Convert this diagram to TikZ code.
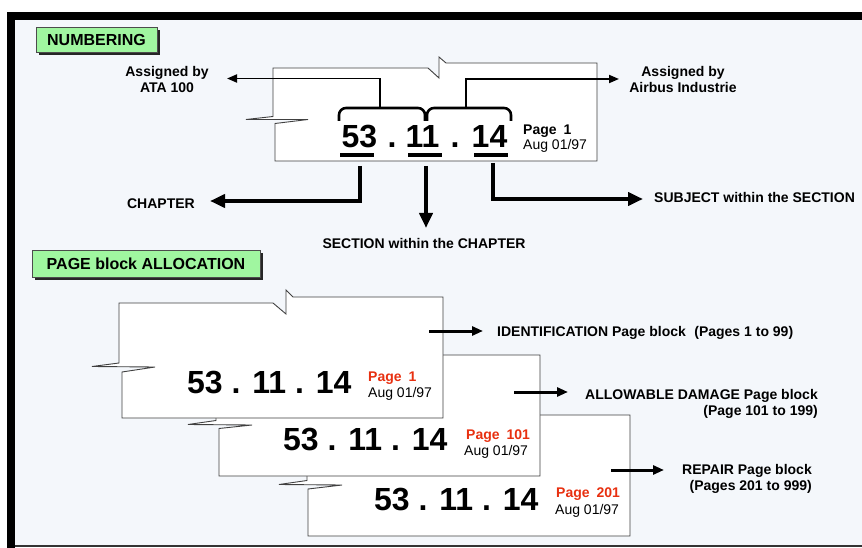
\documentclass[tikz,border=0pt]{standalone}
\usepackage{fontspec}
\setmainfont{Liberation Sans}
\usetikzlibrary{arrows.meta,shadows}
\definecolor{panel}{RGB}{244,247,251}
\definecolor{taggreen}{RGB}{160,246,160}
\definecolor{pagered}{RGB}{232,48,16}
\tikzset{
  sheet/.style={draw=black!75, line width=0.9pt, fill=white, line join=miter},
  tag/.style={draw=black!70, line width=0.6pt, fill=taggreen, inner sep=0pt,
    font=\fontsize{16}{18}\selectfont\bfseries,
    drop shadow={shadow xshift=3pt, shadow yshift=-3pt, fill=black!85, opacity=1}},
  lbl/.style={inner sep=0pt, font=\fontsize{14}{15.5}\selectfont\bfseries},
  bignum/.style={inner sep=0pt, font=\fontsize{32}{34}\selectfont\bfseries},
  pg/.style={inner sep=0pt, text depth=0pt, font=\fontsize{14}{15}\selectfont\bfseries},
  dt/.style={inner sep=0pt, text height=10pt, font=\fontsize{14}{15}\selectfont},
  thinarrow/.style={line width=1.9pt, -{Triangle[length=10pt,width=8pt]}},
  bigarrow/.style={line width=4pt, -{Triangle[length=15pt,width=13pt]}},
  midarrow/.style={line width=3pt, -{Triangle[length=11pt,width=9pt]}},
  brace/.style={line width=2.6pt, rounded corners=7pt},
  uline/.style={line width=4pt},
}
\begin{document}
\begin{tikzpicture}[x=1pt,y=-1pt]
\useasboundingbox (0,0) rectangle (862,548);
% frame and panel
\fill[white] (0,0) rectangle (862,548);
\fill[panel] (15,20) rectangle (862,546);
\fill[black] (7,12) rectangle (862,20);
\fill[black] (7,12) rectangle (15,548);
\draw[black!80, line width=1.5pt] (15,546) -- (862,546);

% section tags
\node[tag, minimum width=121pt, minimum height=25pt] (numbering) at (96.5,39.5) {NUMBERING};
\node[tag, minimum width=228pt, minimum height=27pt] (alloc) at (146,263.5) {PAGE block ALLOCATION};

% ---------- numbering sheet ----------
\draw[sheet] (273,68) -- (428,68) -- (439,78) -- (439,57) -- (446,63) -- (597,63)
  -- (597,161) -- (275,161) -- (275,123.5) -- (308,119.5) -- (246,119.5) -- (273,116.5) -- cycle;

\node[bignum, anchor=base] (n53) at (359.5,148) {53};
\node[bignum, anchor=base] (dotA) at (392,148) {.};
\node[bignum, anchor=base] (n11) at (422.5,148) {11};
\node[bignum, anchor=base] (dotB) at (455,148) {.};
\node[bignum, anchor=base] (n14) at (489.5,148) {14};
\node[pg, anchor=base west] (pg0) at (523,135) {Page\hspace{0.5em}1};
\node[dt, anchor=base west] (dt0) at (523,150) {Aug 01/97};

\draw[uline] (340,155) -- (374,155);
\draw[uline] (408,155) -- (442,155);
\draw[uline] (474,155) -- (508,155);

\draw[brace] (339,121) -- (339,108) -- (425,108) -- (425,121);
\draw[brace] (427,121) -- (427,108) -- (511,108) -- (511,121);

% labels
\node[lbl, anchor=north, align=center] (ata) at (167,66.5) {Assigned by\\ATA 100};
\node[lbl, anchor=north, align=center] (airbus) at (683,66.5) {Assigned by\\Airbus Industrie};
\node[lbl, anchor=base east] (chap) at (195,209) {CHAPTER};
\node[lbl, anchor=base] (sect) at (424,248) {SECTION within the CHAPTER};
\node[lbl, anchor=base west] (subj) at (654,203) {SUBJECT within the SECTION};

% connector ends
\coordinate (braceL) at (380,108);
\coordinate (braceR) at (466,108);
\coordinate (ataTip) at (227,78.5);
\coordinate (airTip) at (619,79);
\coordinate (from53) at (360,166);
\coordinate (from11) at (426,166);
\coordinate (from14) at (493,163);
\coordinate (chapTip) at (210,201);
\coordinate (sectTip) at (426,228);
\coordinate (subjTip) at (643,199);

\draw[thinarrow] (braceL) |- (ataTip);
\draw[thinarrow] (braceR) |- (airTip);
\draw[bigarrow] (from53) |- (chapTip);
\draw[bigarrow] (from11) -- (sectTip);
\draw[bigarrow] (from14) |- (subjTip);

% ---------- page block sheets (back to front) ----------
\draw[sheet] (307,415) -- (630,415) -- (630,536) -- (308,536) -- (308,489)
  -- (342,485) -- (279,484.5) -- (307,480.5) -- cycle;
\node[bignum, anchor=base west] (num3) at (374,510) {53 . 11 . 14};
\node[pg, text=pagered, anchor=base west] (pg3) at (556,497) {Page\hspace{0.5em}201};
\node[dt, anchor=base west] (dt3) at (555,514) {Aug 01/97};

\draw[sheet] (216,355) -- (540,355) -- (540,476) -- (219,476) -- (219,428.5)
  -- (252,425) -- (188,424.5) -- (216,420.5) -- cycle;
\node[bignum, anchor=base west] (num2) at (283,450) {53 . 11 . 14};
\node[pg, text=pagered, anchor=base west] (pg2) at (466,439) {Page\hspace{0.5em}101};
\node[dt, anchor=base west] (dt2) at (464,455) {Aug 01/97};

\draw[sheet] (119,303) -- (273,303) -- (286,314) -- (286,290) -- (293,297) -- (443,297)
  -- (443,418) -- (122,418) -- (122,372) -- (155,367) -- (92,366.5) -- (119,363) -- cycle;
\node[bignum, anchor=base west] (num1) at (187,393) {53 . 11 . 14};
\node[pg, text=pagered, anchor=base west] (pg1) at (368,381) {Page\hspace{0.5em}1};
\node[dt, anchor=base west] (dt1) at (368,397) {Aug 01/97};

% page block labels
\node[lbl, anchor=base west] (ident) at (497,336) {IDENTIFICATION Page block\hspace{0.6em}(Pages 1 to 99)};
\node[lbl, anchor=north east, align=right] (allow) at (818,389.5) {ALLOWABLE DAMAGE Page block\\(Page 101 to 199)};
\node[lbl, anchor=north east, align=right] (repair) at (812,464.5) {REPAIR Page block\\(Pages 201 to 999)};

\coordinate (identFrom) at (429,331);
\coordinate (identTip) at (483,331);
\coordinate (allowFrom) at (514,392);
\coordinate (allowTip) at (568,392);
\coordinate (repairFrom) at (611,470);
\coordinate (repairTip) at (664,470);

\draw[midarrow] (identFrom) -- (identTip);
\draw[midarrow] (allowFrom) -- (allowTip);
\draw[midarrow] (repairFrom) -- (repairTip);
\end{tikzpicture}
\end{document}
